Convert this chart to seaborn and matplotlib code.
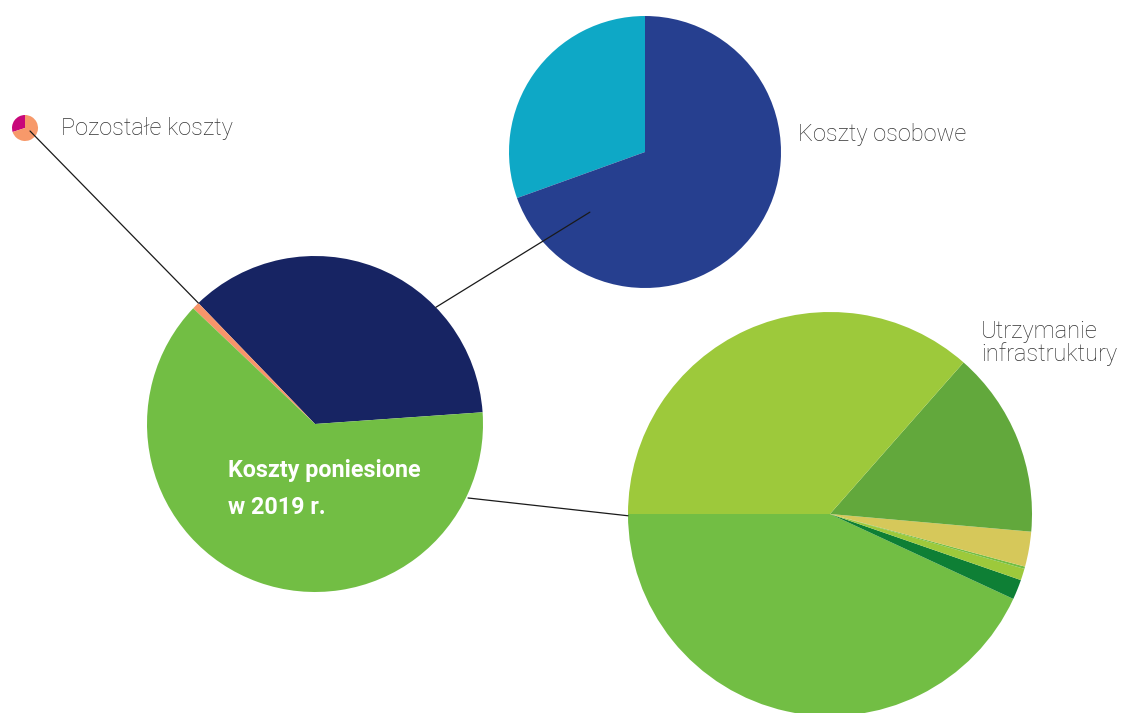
import matplotlib
matplotlib.use("Agg")
import numpy as np
import seaborn as sns
import matplotlib.pyplot as plt

# Data (shares in percent)
main_labels = ["Koszty osobowe", "Pozostałe koszty", "Utrzymanie infrastruktury"]
main_values = [36.1, 0.7, 63.2]
main_colors = ["#172463", "#F7956A", "#72BE44"]

staff_values = [30.5, 69.5]
staff_colors = ["#0EA8C6", "#263F8F"]

other_values = [30.0, 70.0]
other_colors = ["#C8087A", "#F7996A"]

infra_values = [43.1, 1.6, 0.93, 0.18, 2.8, 14.9, 36.5]
infra_colors = ["#72BE44", "#0E7F35", "#9DC93B", "#72BE44", "#D6C85A", "#62A83C", "#9DC93B"]

W, H = 1124, 713

sns.set_theme(style="white")
plt.rcParams["font.family"] = ["Roboto", "DejaVu Sans"]

fig = plt.figure(figsize=(W / 100, H / 100), dpi=100)
ax = fig.add_axes([0, 0, 1, 1])


def img(x, y):
    # picture coordinates (y down) -> axes coordinates (y up)
    return x, H - y


def pie(values, colors, center, radius, start):
    wedges, _ = ax.pie(values, colors=colors, center=img(*center), radius=radius,
                       startangle=start, counterclock=True,
                       wedgeprops=dict(linewidth=0), frame=True)
    return wedges


def edge_point(center, radius, angle):
    cx, cy = img(*center)
    a = np.deg2rad(angle)
    return cx + radius * np.cos(a), cy + radius * np.sin(a)


main_c, main_r = (315, 424), 168
staff_c, staff_r = (645, 152), 136
other_c, other_r = (25, 128), 13
infra_c, infra_r = (830, 514), 202

main_w = pie(main_values, main_colors, main_c, main_r, 4)
pie(staff_values, staff_colors, staff_c, staff_r, 90)
pie(other_values, other_colors, other_c, other_r, 90)
pie(infra_values, infra_colors, infra_c, infra_r, 180)

ax.set_xlim(0, W)
ax.set_ylim(0, H)
ax.set_aspect("equal")
ax.axis("off")

# connector lines
lk = dict(color="#1a1a1a", lw=0.9, zorder=5)
p0 = img(30, 131)
p1 = edge_point(main_c, main_r, main_w[1].theta1)
ax.plot([p0[0], p1[0]], [p0[1], p1[1]], **lk)

p0 = edge_point(staff_c, staff_r * 0.6, 227.5)
p1 = edge_point(main_c, main_r, 44)
ax.plot([p0[0], p1[0]], [p0[1], p1[1]], **lk)

p0 = edge_point(main_c, main_r + 2, -25.8)
p1 = edge_point(infra_c, infra_r, 180.5)
ax.plot([p0[0], p1[0]], [p0[1], p1[1]], **lk)

# labels
tk = dict(fontsize=17, color="#333333", fontweight="light", va="center", ha="left")
ax.text(*img(61, 128), "Pozostałe koszty", **tk)
ax.text(*img(798, 134), "Koszty osobowe", **tk)
ax.text(*img(981, 343), "Utrzymanie\ninfrastruktury", linespacing=0.95, **tk)

bk = dict(fontsize=16.8, color="white", fontweight="bold", va="center", ha="left")
ax.text(*img(228, 470), "Koszty poniesione", **bk)
ax.text(*img(228, 508), "w 2019 r.", **bk)

fig.savefig("out.png", dpi=100)
